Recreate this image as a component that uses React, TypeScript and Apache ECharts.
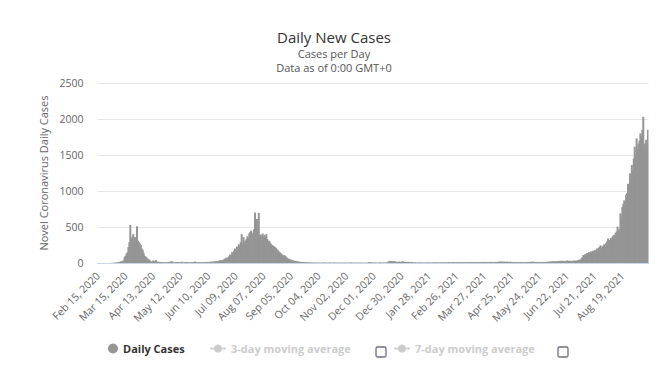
import React, { useEffect, useRef } from 'react';
import * as echarts from 'echarts';

// Daily new cases, Feb 15, 2020 .. Sep 15, 2021 (one value per day)
const earlyDays = [0, 0, 0, 0, 0, 0, 1, 0, 0, 0, 0, 0, 0, 0, 2, 1, 3, 2, 5, 4, 9, 7];
const firstWave = [
  12, 18, 20, 25, 30, 35, 80, 100, 130, 150,
  220, 290, 530, 330, 360, 400, 340, 360, 320, 510,
  310, 290, 270, 250, 200, 180, 140, 100, 90, 80,
  60, 50, 45, 30, 20, 15, 35, 30, 25, 40, 20, 15,
];
const quietMid2020 = [
  18, 12, 10, 14, 8, 6, 12, 9, 10, 5, 16, 7,
  20, 18, 22, 12, 8, 10, 6, 14, 9, 12, 5, 8,
  18, 10, 6, 9, 12, 7, 14, 8, 10, 6, 9, 12,
  8, 14, 20, 10, 6, 9, 12, 8, 11, 7, 10, 9,
  12, 8, 14, 10, 16, 9, 18, 15, 20, 14, 22, 19,
  25, 18, 30, 28, 35, 40,
];
const secondWave = [
  30, 45, 40, 60, 55, 75, 70, 80,
  100, 120, 110, 150, 140,
  170, 200, 180, 230, 210, 260, 240, 290, 400, 270, 360,
  290, 310, 330, 370, 350, 410, 430, 450, 380,
  420, 470, 700, 520, 610, 480, 695,
  400, 380, 390, 410, 370, 390, 360, 400,
  330, 300, 310, 280, 260, 250, 240, 230, 220,
  210, 190, 180, 160, 150, 140, 120, 115, 100, 110, 95,
  80, 70, 60, 55, 50, 45, 40, 35, 30, 28,
  25, 20, 22, 18, 15, 16, 12, 14, 10, 12, 8, 9, 10, 6, 7, 5, 8, 4, 6, 5, 4,
];
const quietLate = [
  5, 3, 4, 6, 2, 3, 5, 4, 8, 3,
  6, 2, 4, 3, 5, 7, 3, 2, 4, 6,
  3, 5, 2, 4, 6, 3, 2, 5, 3, 4,
  2, 6, 3, 4, 2, 5, 3, 8, 4, 3,
  5, 2, 4, 3, 6, 2, 3, 5, 4, 2,
  3, 5, 2, 4, 3, 6, 10, 12, 8, 6,
  5, 4, 6, 3, 5, 2, 4, 8, 6, 5,
  4, 6, 3, 5, 8, 6, 18, 24, 30, 28,
  26, 22, 20, 25, 18, 15, 12, 20, 16, 14,
  18, 22, 20, 15, 12, 14, 10, 16, 12, 8,
  10, 12, 8, 6, 9, 5, 7, 4, 6, 8,
  5, 7, 4, 6, 3, 5, 8, 4, 6, 5,
  7, 4, 6, 5, 8, 6, 9, 5, 7, 4,
  6, 8, 5, 9, 7, 10, 6, 8, 5, 12,
  9, 6, 8, 10, 7, 12, 9, 6, 8, 11,
  7, 10, 8, 12, 9, 6, 11, 8, 10, 7,
  9, 12, 8, 10, 14, 9, 11, 8, 12, 10,
  13, 9, 11, 8, 14, 10, 12, 9, 15, 11,
  10, 14, 12, 9, 16, 11, 13, 10, 15, 12,
  11, 18, 14, 20, 16, 22, 18, 15, 20, 17,
  14, 19, 16, 12, 18, 15, 11, 14, 10, 13,
  9, 12, 8, 11, 10, 14, 9, 12, 8, 10,
  11, 9, 13, 10, 15, 12, 18, 14, 20, 16,
  12, 15, 10, 14, 11, 13, 9, 12, 10, 14,
  11, 16, 12, 18, 14, 20, 15, 22, 18, 25,
  20, 24, 18, 26, 22, 28, 24, 30, 26, 32, 28,
];
const thirdWave = [
  25, 30, 22, 35, 28, 32, 26, 30, 24, 28, 35, 30,
  32, 28, 40, 36, 45, 50, 60, 80,
  110, 95, 125, 115, 140, 130, 150, 135, 160, 145,
  170, 155, 180, 165, 200, 175, 210, 220, 245, 200,
  230, 240, 260, 225, 280, 300, 340, 290, 320, 350,
  330, 370, 390, 380, 420, 440, 505, 450, 470, 690,
  640, 780, 820, 870, 830, 950, 970, 1100, 1030, 1245,
  1150, 1360, 1290, 1450, 1615, 1500, 1730, 1580, 1660, 1700,
  1800, 1760, 1850, 2030, 1640, 1660, 1710, 1620, 1850,
];
const dailyCases = [...earlyDays, ...firstWave, ...quietMid2020, ...secondWave, ...quietLate, ...thirdWave];

const monthNames = ['Jan', 'Feb', 'Mar', 'Apr', 'May', 'Jun', 'Jul', 'Aug', 'Sep', 'Oct', 'Nov', 'Dec'];
const startDate = Date.UTC(2020, 1, 15);
const categories = dailyCases.map((_, i) => {
  const d = new Date(startDate + i * 86400000);
  const day = String(d.getUTCDate()).padStart(2, '0');
  return `${monthNames[d.getUTCMonth()]} ${day}, ${d.getUTCFullYear()}`;
});

const yTicks = { min: 0, max: 2500, interval: 500 };
const legendNames = ['Daily Cases', '3-day moving average', '7-day moving average'];

const FONT = '"Open Sans", "DejaVu Sans", sans-serif';

export default function App() {
  const ref = useRef<HTMLDivElement>(null);
  useEffect(() => {
    document.body.style.margin = '0';
    const chart = echarts.init(ref.current!, undefined, { renderer: 'svg' });
    const selected = { [legendNames[0]]: true, [legendNames[1]]: false, [legendNames[2]]: false };
    const legendBase = {
      orient: 'horizontal',
      top: 343,
      itemHeight: 10,
      inactiveColor: '#cccccc',
      selected,
      textStyle: { fontFamily: FONT, fontSize: 11, fontWeight: 'bold', color: '#333333' },
      padding: 0,
    };
    chart.setOption({
      animation: false,
      textStyle: { fontFamily: FONT },
      title: [
        {
          text: 'Daily New Cases',
          left: 'center',
          top: 29,
          padding: 0,
          textStyle: { fontFamily: FONT, fontSize: 15, fontWeight: 'normal', color: '#333333' },
        },
        {
          text: 'Cases per Day\nData as of 0:00 GMT+0',
          left: 'center',
          top: 46,
          padding: 0,
          textStyle: { fontFamily: FONT, fontSize: 11, fontWeight: 'normal', color: '#555555', lineHeight: 14 },
        },
      ],
      legend: [
        { ...legendBase, left: 108, data: [{ name: legendNames[0], icon: 'circle' }], itemWidth: 10 },
        { ...legendBase, left: 209, data: [legendNames[1]], itemWidth: 16 },
        { ...legendBase, left: 393, data: [legendNames[2]], itemWidth: 16 },
      ],
      grid: { left: 97.5, right: 19.5, top: 83, bottom: 113 },
      xAxis: {
        type: 'category',
        data: categories,
        boundaryGap: true,
        axisLine: { lineStyle: { color: '#ccd6eb' } },
        axisTick: { show: false },
        axisLabel: { interval: 28, rotate: 45, fontSize: 10.5, color: '#666666', margin: 11, fontFamily: FONT },
      },
      yAxis: {
        type: 'value',
        ...yTicks,
        name: 'Novel Coronavirus Daily Cases',
        nameLocation: 'middle',
        nameRotate: 90,
        nameGap: 46,
        nameTextStyle: { fontSize: 11, color: '#666666', fontFamily: FONT },
        axisLine: { show: false },
        axisTick: { show: false },
        axisLabel: { fontSize: 10.5, color: '#666666', margin: 14, fontFamily: FONT, formatter: (v: number) => String(v) },
        splitLine: { lineStyle: { color: '#e6e6e6' } },
      },
      series: [
        {
          name: legendNames[0],
          type: 'bar',
          data: dailyCases,
          barWidth: 2,
          itemStyle: { color: '#959595' },
        },
        { name: legendNames[1], type: 'line', data: [], symbol: 'circle', itemStyle: { color: '#999999' } },
        { name: legendNames[2], type: 'line', data: [], symbol: 'circle', itemStyle: { color: '#999999' } },
      ],
      graphic: [
        { type: 'rect', shape: { x: 376, y: 347, width: 10, height: 10, r: 1.5 }, style: { fill: '#ffffff', stroke: '#6e6e80', lineWidth: 1.3 } },
        { type: 'rect', shape: { x: 558, y: 347, width: 10, height: 10, r: 1.5 }, style: { fill: '#ffffff', stroke: '#6e6e80', lineWidth: 1.3 } },
      ],
    });
    return () => chart.dispose();
  }, []);
  return <div ref={ref} style={{ width: 668, height: 376 }} />;
}
